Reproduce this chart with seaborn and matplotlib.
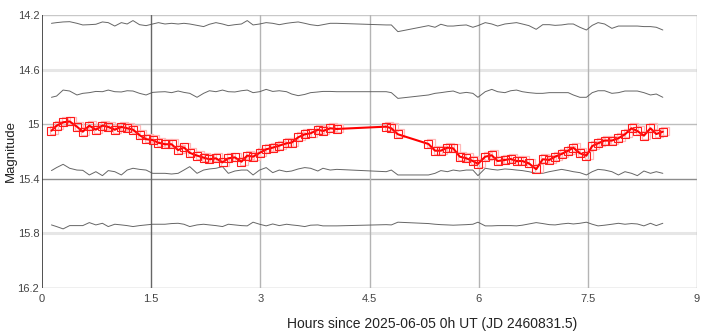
import numpy as np
import pandas as pd
import matplotlib
matplotlib.use("Agg")
import matplotlib.pyplot as plt
import seaborn as sns

# hours since 2025-06-05 0h UT
horas = [0.13, 0.20, 0.29, 0.38, 0.48, 0.56, 0.65, 0.74, 0.83, 0.91,
         1.00, 1.09, 1.17, 1.25, 1.34, 1.43, 1.52, 1.60, 1.69, 1.78,
         1.87, 1.95, 2.03, 2.13, 2.22, 2.30, 2.39, 2.48, 2.56, 2.65,
         2.74, 2.82, 2.90, 2.99, 3.08, 3.17, 3.26, 3.36, 3.43, 3.52,
         3.61, 3.69, 3.79, 3.86, 3.96, 4.05,
         4.73, 4.80, 4.89,
         5.31, 5.40, 5.48, 5.57, 5.65, 5.74, 5.83, 5.92, 5.99, 6.09,
         6.18, 6.26, 6.36, 6.44, 6.52, 6.60, 6.69, 6.79, 6.88, 6.97,
         7.05, 7.14, 7.23, 7.30, 7.39, 7.48, 7.56, 7.64, 7.73, 7.83,
         7.92, 8.01, 8.10, 8.18, 8.27, 8.36, 8.44, 8.53]

# variable star
mag_var = [15.048, 15.011, 14.986, 14.980, 15.018, 15.055, 15.011, 15.040, 15.010, 15.020,
           15.040, 15.020, 15.030, 15.040, 15.080, 15.110, 15.116, 15.136, 15.147, 15.147,
           15.190, 15.170, 15.210, 15.230, 15.245, 15.257, 15.250, 15.280, 15.250, 15.243,
           15.275, 15.230, 15.238, 15.210, 15.184, 15.172, 15.157, 15.140, 15.135, 15.096,
           15.074, 15.067, 15.040, 15.050, 15.030, 15.035,
           15.018, 15.030, 15.074,
           15.145, 15.194, 15.194, 15.172, 15.177, 15.238, 15.250, 15.270, 15.290, 15.238,
           15.228, 15.270, 15.262, 15.255, 15.270, 15.270, 15.287, 15.330, 15.257, 15.262,
           15.238, 15.218, 15.194, 15.172, 15.213, 15.230, 15.160, 15.140, 15.120, 15.120,
           15.103, 15.074, 15.030, 15.050, 15.084, 15.030, 15.072, 15.055]

# comparison stars
comp1 = [14.261, 14.256, 14.251, 14.249, 14.261, 14.273, 14.271, 14.268, 14.251, 14.256,
         14.281, 14.256, 14.266, 14.241, 14.271, 14.278, 14.266, 14.256, 14.266, 14.261,
         14.266, 14.261, 14.266, 14.276, 14.285, 14.268, 14.256, 14.266, 14.278, 14.271,
         14.266, 14.241, 14.273, 14.266, 14.256, 14.261, 14.271, 14.261, 14.256, 14.251,
         14.261, 14.271, 14.278, 14.271, 14.261, 14.261,
         14.273, 14.273, 14.322,
         14.278, 14.290, 14.268, 14.281, 14.281, 14.276, 14.273, 14.290, 14.278, 14.256,
         14.266, 14.281, 14.266, 14.261, 14.256, 14.266, 14.278, 14.305, 14.271, 14.271,
         14.276, 14.273, 14.266, 14.266, 14.290, 14.310, 14.276, 14.256, 14.266, 14.298,
         14.281, 14.281, 14.281, 14.281, 14.285, 14.285, 14.290, 14.310]

comp2 = [14.803, 14.794, 14.750, 14.757, 14.786, 14.774, 14.769, 14.760, 14.762, 14.750,
         14.762, 14.764, 14.755, 14.757, 14.774, 14.786, 14.767, 14.764, 14.762, 14.769,
         14.757, 14.767, 14.774, 14.803, 14.774, 14.755, 14.762, 14.750, 14.762, 14.764,
         14.755, 14.750, 14.769, 14.762, 14.745, 14.760, 14.755, 14.762, 14.779, 14.791,
         14.782, 14.769, 14.764, 14.760, 14.760, 14.762,
         14.762, 14.769, 14.811,
         14.786, 14.774, 14.769, 14.762, 14.757, 14.774, 14.767, 14.774, 14.803, 14.762,
         14.745, 14.762, 14.769, 14.755, 14.750, 14.762, 14.769, 14.774, 14.774, 14.769,
         14.769, 14.769, 14.769, 14.786, 14.803, 14.803, 14.769, 14.755, 14.755, 14.774,
         14.769, 14.757, 14.757, 14.757, 14.769, 14.786, 14.779, 14.803]

comp3 = [15.340, 15.318, 15.294, 15.323, 15.336, 15.338, 15.372, 15.348, 15.377, 15.340,
         15.348, 15.372, 15.336, 15.323, 15.331, 15.336, 15.360, 15.360, 15.360, 15.365,
         15.360, 15.336, 15.311, 15.360, 15.336, 15.328, 15.323, 15.311, 15.360, 15.343,
         15.336, 15.336, 15.372, 15.336, 15.318, 15.355, 15.336, 15.348, 15.343, 15.328,
         15.318, 15.323, 15.343, 15.323, 15.336, 15.331,
         15.348, 15.336, 15.372,
         15.372, 15.360, 15.340, 15.348, 15.336, 15.343, 15.336, 15.336, 15.377, 15.323,
         15.331, 15.336, 15.328, 15.331, 15.336, 15.340, 15.348, 15.360, 15.360, 15.348,
         15.340, 15.331, 15.340, 15.348, 15.355, 15.372, 15.348, 15.331, 15.336, 15.348,
         15.372, 15.348, 15.360, 15.377, 15.343, 15.360, 15.348, 15.360]

comp4 = [15.738, 15.750, 15.767, 15.743, 15.743, 15.743, 15.721, 15.738, 15.726, 15.750,
         15.733, 15.738, 15.743, 15.750, 15.743, 15.738, 15.733, 15.733, 15.733, 15.728,
         15.726, 15.733, 15.750, 15.738, 15.733, 15.738, 15.743, 15.750, 15.733, 15.738,
         15.743, 15.745, 15.718, 15.733, 15.745, 15.731, 15.743, 15.733, 15.738, 15.743,
         15.750, 15.740, 15.738, 15.745, 15.745, 15.745,
         15.736, 15.738, 15.718,
         15.728, 15.733, 15.736, 15.738, 15.740, 15.738, 15.736, 15.733, 15.718, 15.745,
         15.745, 15.743, 15.743, 15.743, 15.745, 15.740, 15.731, 15.721, 15.728, 15.736,
         15.738, 15.731, 15.726, 15.731, 15.726, 15.718, 15.733, 15.745, 15.740, 15.733,
         15.726, 15.733, 15.728, 15.731, 15.745, 15.726, 15.743, 15.726]

x_ticks = [0, 1.5, 3, 4.5, 6, 7.5, 9]
y_ticks = [14.2, 14.6, 15.0, 15.4, 15.8, 16.2]
y_tick_labels = ["14.2", "14.6", "15", "15.4", "15.8", "16.2"]

sns.set_style("white")
plt.rcParams['font.family'] = ['Liberation Sans', 'DejaVu Sans']

fig = plt.figure(figsize=(7.18, 3.36), dpi=100)
ax = fig.add_axes([0.0585, 0.1429, 0.9123, 0.8125])

df = pd.DataFrame({'h': horas, 'var': mag_var, 'c1': comp1, 'c2': comp2,
                   'c3': comp3, 'c4': comp4})

# grade (cores diferentes como na imagem original)
hgrid = {14.2: ('#c8c8c8', 1.0), 14.6: ('#e6e6e6', 2.2), 15.0: ('#bdbdbd', 1.0),
         15.4: ('#8c8c8c', 1.0), 15.8: ('#e6e6e6', 2.2), 16.2: ('#b0b0b0', 1.0)}
for yv, (c, w) in hgrid.items():
    ax.axhline(yv, color=c, lw=w, zorder=0)
vgrid = {0: ('#333333', 1.2), 1.5: ('#666666', 1.0), 3: ('#b4b4b4', 1.0),
         4.5: ('#b4b4b4', 1.0), 6: ('#b4b4b4', 1.0), 7.5: ('#b4b4b4', 1.0),
         9: ('#b4b4b4', 1.0)}
for xv, (c, w) in vgrid.items():
    ax.axvline(xv, color=c, lw=w, zorder=0)

for col in ['c1', 'c2', 'c3', 'c4']:
    sns.lineplot(data=df, x='h', y=col, ax=ax, color='#555555', lw=0.7,
                 alpha=0.9, zorder=2)

# serie secundaria clara (sombra dos pontos)
ax.plot(df['h'] + 0.035, df['var'] - 0.006, lw=0,
        marker='s', markersize=5.5, markerfacecolor='none',
        markeredgecolor='#ffb8b8', markeredgewidth=0.9, zorder=3)
sns.lineplot(data=df, x='h', y='var', ax=ax, color='#ff0000', lw=1.5,
             marker='s', markersize=5.5, markerfacecolor='none',
             markeredgecolor='#ff1a1a', markeredgewidth=0.8, zorder=4)

ax.set_xlim(0, 9)
ax.set_ylim(16.2, 14.2)
ax.set_xticks(x_ticks)
ax.set_xticklabels([f"{v:g}" for v in x_ticks])
ax.set_yticks(y_ticks)
ax.set_yticklabels(y_tick_labels)
ax.tick_params(axis='both', length=0, labelsize=8, colors='#444444')
ax.tick_params(axis='x', pad=4)
ax.tick_params(axis='y', pad=2)
for s in ax.spines.values():
    s.set_visible(False)

ax.set_xlabel('')
ax.set_ylabel('Magnitude', fontsize=9.5, color='#222222')
ax.yaxis.set_label_coords(-0.038, 0.5)
fig.text(0.602, 0.035, 'Hours since 2025-06-05 0h UT (JD 2460831.5)',
         fontsize=10, color='#222222', ha='center', va='center')

plt.savefig('out.png', dpi=100)
plt.close()
